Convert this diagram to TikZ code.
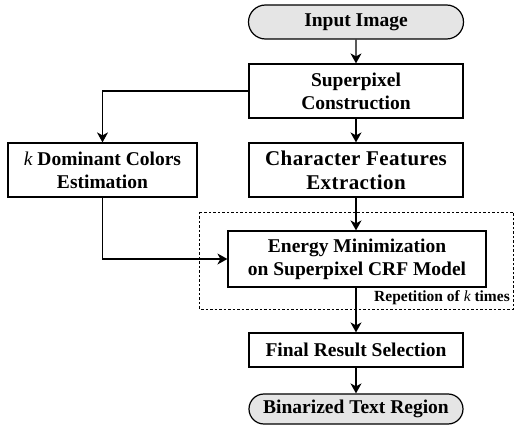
\documentclass[tikz,border=0pt]{standalone}
\usepackage{fontspec}
\setmainfont{Liberation Serif}
\usetikzlibrary{arrows.meta,shapes.misc}
\newcommand{\kvar}{{\mdseries\itshape k}}
\begin{document}
\begin{tikzpicture}[x=1pt,y=-1pt,
  box/.style={draw, line width=1.2pt, fill=white, font=\fontsize{19.5}{23}\selectfont\bfseries, align=center, inner sep=0pt},
  bigbox/.style={box, font=\fontsize{21}{24}\selectfont\bfseries\addfontfeature{LetterSpace=2}},
  term/.style={box, rounded rectangle, fill=black!10},
  arr/.style={line width=1.2pt, -{Stealth[length=10pt,width=11pt,inset=3pt]}},
  dbox/.style={draw, line width=0.8pt, dash pattern=on 2.5pt off 2pt}
]
\useasboundingbox (0,0) rectangle (515,425);
\draw[dbox] (199,212) rectangle (513,309);
\node[term, minimum width=215pt, minimum height=34pt] (in) at (356,22) {Input Image};
\node[box, minimum width=214pt, minimum height=54pt] (sp) at (356,91) {Superpixel\\Construction};
\node[box, minimum width=189pt, minimum height=54pt] (kd) at (102.5,170) {\kvar{} Dominant Colors\\Estimation};
\node[bigbox, minimum width=214pt, minimum height=54pt] (cf) at (356,170) {Character Features\\Extraction};
\node[box, minimum width=258pt, minimum height=56pt] (em) at (357,259) {Energy Minimization\\on Superpixel CRF Model};
\node[font=\fontsize{15.5}{17}\selectfont\bfseries, anchor=base east, inner sep=0pt] (rep) at (510,302) {Repetition of \kvar{} times};
\node[box, minimum width=214pt, minimum height=34pt] (fr) at (356,350) {Final Result Selection};
\node[term, minimum width=214pt, minimum height=30pt] (bt) at (356,409) {Binarized Text Region};
\draw[arr] (in) -- (sp);
\draw[arr] (sp) -- (cf);
\draw[arr] (sp.west) -| (kd.north);
\draw[arr] (cf) -- (cf.south |- em.north);
\draw[arr] (kd.south) |- (em.west);
\draw[arr] (em.south -| fr.north) -- (fr.north);
\draw[arr] (fr) -- (bt);
\end{tikzpicture}
\end{document}
